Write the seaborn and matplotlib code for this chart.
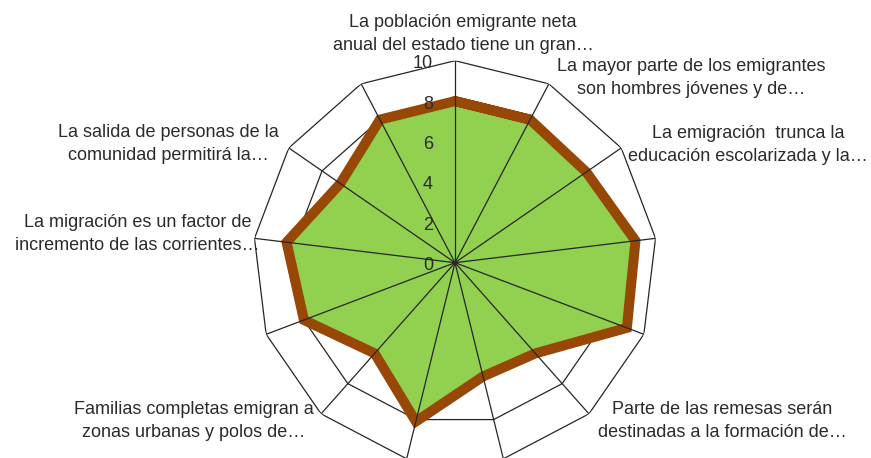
import numpy as np
import pandas as pd
import matplotlib
matplotlib.use("Agg")
import matplotlib.pyplot as plt
import seaborn as sns

# categorias del radar (Excel solo muestra algunas etiquetas)
categories = [
    "La población emigrante neta\nanual del estado tiene un gran…",
    "La mayor parte de los emigrantes\nson hombres jóvenes y de…",
    "La emigración  trunca la\neducación escolarizada y la…",
    "",
    "",
    "Parte de las remesas serán\ndestinadas a la formación de…",
    "",
    "",
    "Familias completas emigran a\nzonas urbanas y polos de…",
    "",
    "La migración es un factor de\nincremento de las corrientes…",
    "La salida de personas de la\ncomunidad permitirá la…",
    "",
]
values = [8, 8, 7.9, 9, 9.1, 6, 5.8, 8.1, 6, 8, 8.4, 6.9, 8]
ring_levels = [2, 4, 6, 8, 10]
tick_values = [0, 2, 4, 6, 8, 10]
tick_labels = ["0", "2", "4", "6", "8", "10"]

# desplazamiento (px) de cada etiqueta visible respecto al vertice exterior
label_offsets = {0: (8, 27), 1: (142, 6), 2: (127, 3), 5: (133, -7),
                 8: (-127, -7), 10: (-117, 4), 11: (-120, 4)}

GREEN = "#92D050"
BROWN = "#974706"
GRID = "#262626"
TEXT = "#2b2b2b"

sns.set_theme(style="white")
plt.rcParams['font.family'] = ['Liberation Sans', 'DejaVu Sans']

n = len(values)
step = 2 * np.pi / n
theta = np.arange(n) * step
theta_closed = np.append(theta, 2 * np.pi)

fig = plt.figure(figsize=(8.71, 4.58), dpi=100)
ax = fig.add_axes([0.2905, -0.0146, 0.4638, 0.8821], projection="polar")
ax.set_theta_zero_location("N")
ax.set_theta_direction(-1)
ax.grid(False)
ax.spines["polar"].set_visible(False)
ax.set_xticks([])
ax.set_yticks([])

# anillos poligonales
for lvl in ring_levels:
    ax.plot(theta_closed, [lvl] * (n + 1), color=GRID, lw=0.9, zorder=1)

# relleno y contorno de la serie
ax.fill(theta, values, color=GREEN, lw=0, zorder=2)
df = pd.DataFrame({"theta": np.append(theta_closed, 2 * np.pi + step),
                   "valor": values + values[:2]})
sns.lineplot(data=df, x="theta", y="valor", ax=ax, sort=False, color=BROWN,
             lw=7.2, solid_joinstyle="miter", zorder=3)

# radios
for t in theta:
    ax.plot([t, t], [0, 10], color=GRID, lw=0.9, zorder=4)

ax.set_xlabel("")
ax.set_ylabel("")
ax.set_ylim(0, 10)

for v, lab in zip(tick_values, tick_labels):
    ax.annotate(lab, xy=(0, v), xytext=(-22, -3), textcoords="offset pixels",
                ha="right", va="center", fontsize=13, color=TEXT,
                annotation_clip=False)

for i, lab in enumerate(categories):
    if not lab:
        continue
    ax.annotate(lab, xy=(theta[i], 10), xytext=label_offsets[i],
                textcoords="offset pixels", ha="center", va="center",
                multialignment="center", linespacing=1.45, fontsize=13,
                color=TEXT, annotation_clip=False)

fig.savefig("out.png", dpi=100)
